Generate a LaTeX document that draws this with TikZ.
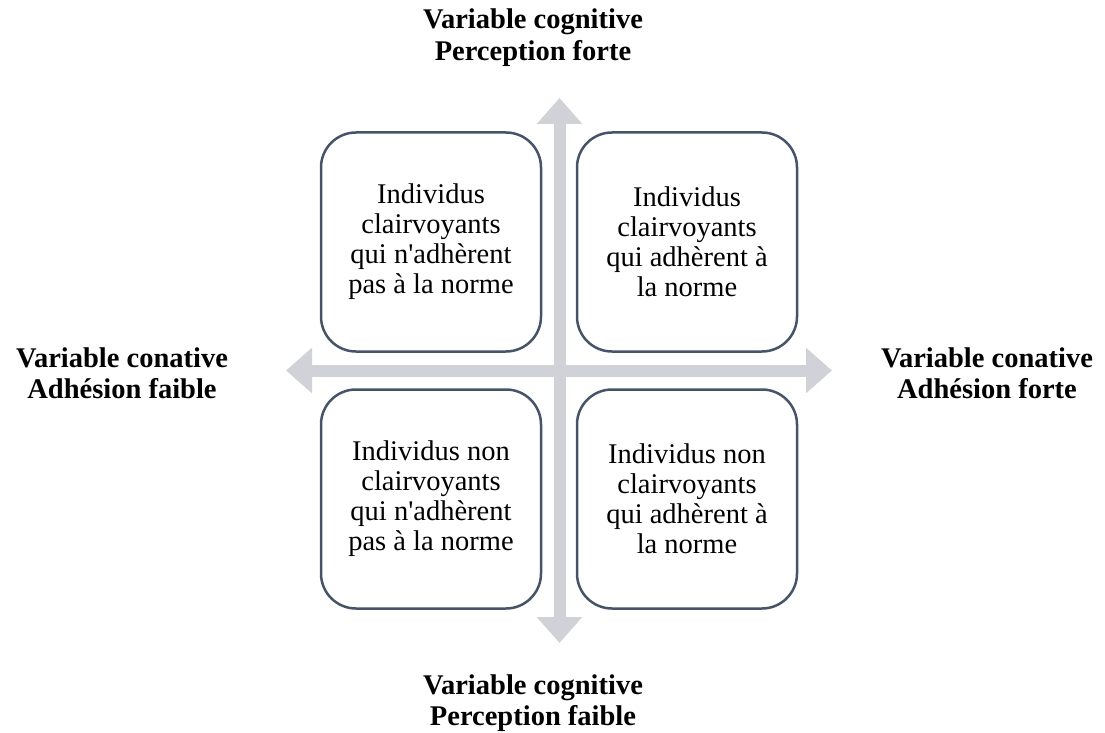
\documentclass[tikz,border=0pt]{standalone}
\usepackage{fontspec}
\setmainfont{Liberation Serif}
\usetikzlibrary{arrows.meta, positioning}
\definecolor{framegray}{RGB}{68,84,106}
\definecolor{axisgray}{RGB}{208,210,215}

\tikzset{
  quadbox/.style={draw=framegray, line width=2.5pt, fill=white, rounded corners=35pt,
    minimum width=220pt, minimum height=219pt, align=center, inner sep=0pt,
    font=\fontsize{28.5}{30}\selectfont},
  axislabel/.style={align=center, inner sep=0pt, font=\bfseries\fontsize{28.5}{31.5}\selectfont},
  axisarrow/.style={axisgray, line width=12pt, {Triangle[width=44pt, length=26pt]}-{Triangle[width=44pt, length=26pt]}}
}

\begin{document}
\begin{tikzpicture}[x=1pt, y=-1pt]
  \useasboundingbox (0,0) rectangle (1105,733);

  % Axes
  \coordinate (west) at (286,370.5);
  \coordinate (east) at (832,370.5);
  \coordinate (north) at (559.5,98);
  \coordinate (south) at (559.5,643);
  \draw[axisarrow] (west) -- (east);
  \draw[axisarrow] (south) -- (north);

  % Quadrants
  \node[quadbox] (tl) at (431,242) {Individus\\clairvoyants\\qui n\textquotesingle adhèrent\\pas à la norme};
  \node[quadbox] (tr) at (687,242) {Individus\\clairvoyants\\qui adhèrent à\\la norme};
  \node[quadbox] (bl) at (431,499) {Individus non\\clairvoyants\\qui n\textquotesingle adhèrent\\pas à la norme};
  \node[quadbox] (br) at (687,499) {Individus non\\clairvoyants\\qui adhèrent à\\la norme};

  % Axis labels
  \node[axislabel] (top) at (533,37.5) {Variable cognitive\\Perception forte};
  \node[axislabel] (bottom) at (533,703) {Variable cognitive\\Perception faible};
  \node[axislabel] (left) at (122,373) {Variable conative\\Adhésion faible};
  \node[axislabel] (right) at (987,373) {Variable conative\\Adhésion forte};
\end{tikzpicture}
\end{document}
